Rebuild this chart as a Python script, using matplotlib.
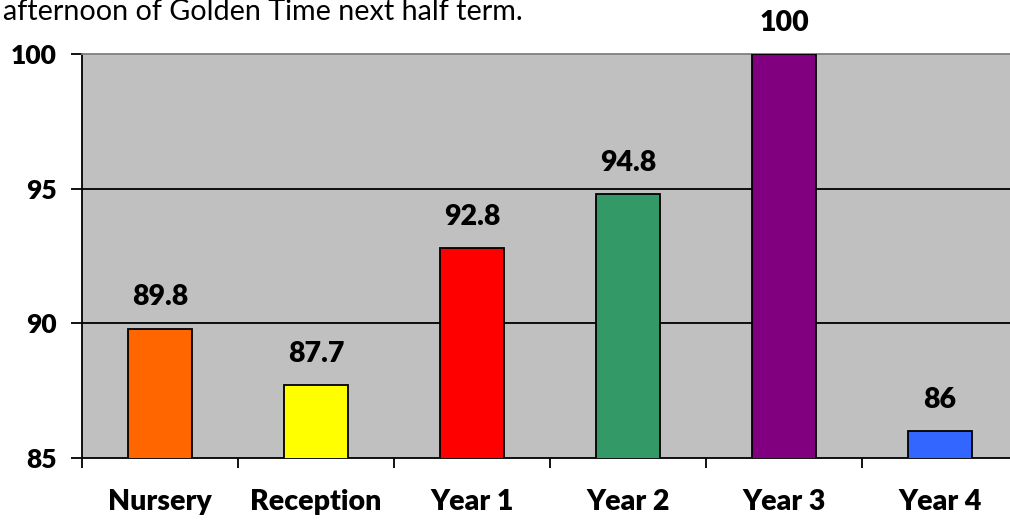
import matplotlib.pyplot as plt
import numpy as np

# Data
categories = ['Nursery', 'Reception', 'Year 1', 'Year 2', 'Year 3', 'Year 4']
values = [89.8, 87.7, 92.8, 94.8, 100, 86]
labels = ['89.8', '87.7', '92.8', '94.8', '100', '86']
colors = ['#FF6600', '#FFFF00', '#FF0000', '#339966', '#800080', '#3366FF']
yticks = [85, 90, 95, 100]

plt.rcParams['font.family'] = ['Lato', 'DejaVu Sans']
W = 'heavy'
FS = 20.5

fig = plt.figure(figsize=(10.1, 5.23), dpi=100)
# plot area runs past the right edge, like the cropped original
ax = fig.add_axes([82 / 1010, 65 / 523, 936 / 1010, 404 / 523])
ax.set_facecolor('#C0C0C0')

x = np.arange(len(categories))
ax.bar(x, values, width=0.41, color=colors, edgecolor='black', linewidth=1.3, zorder=3)

ax.set_xlim(-0.5, 5.5)
ax.set_ylim(85, 100)

for xi, v, lab in zip(x, values, labels):
    ax.annotate(lab, (xi, v), xytext=(0, 22.5), textcoords='offset points',
                ha='center', va='center', fontsize=FS, fontweight=W,
                annotation_clip=False)

# gridlines
for yv in [90, 95]:
    ax.axhline(yv, color='black', linewidth=1.3, zorder=1)

ax.set_yticks(yticks)
ax.set_yticklabels([str(t) for t in yticks], fontsize=19, fontweight=W)
ax.tick_params(axis='y', direction='out', length=8, width=1.3, pad=10)

ax.set_xticks(x)
ax.set_xticklabels(categories, fontsize=FS, fontweight=W)
ax.set_xticks(np.arange(-0.5, 6, 1), minor=True)
ax.tick_params(axis='x', which='major', length=0, pad=22)
ax.tick_params(axis='x', which='minor', direction='out', length=7, width=1.3)

for side in ['left', 'bottom']:
    ax.spines[side].set_color('black')
    ax.spines[side].set_linewidth(1.3)
ax.spines['top'].set_color('#808080')
ax.spines['top'].set_linewidth(1.3)
ax.spines['right'].set_visible(False)

fig.text(3 / 1010, 1 - 20 / 523, 'afternoon of Golden Time next half term.',
         fontsize=20.7, ha='left', va='baseline')

fig.savefig('out.png', dpi=100)
